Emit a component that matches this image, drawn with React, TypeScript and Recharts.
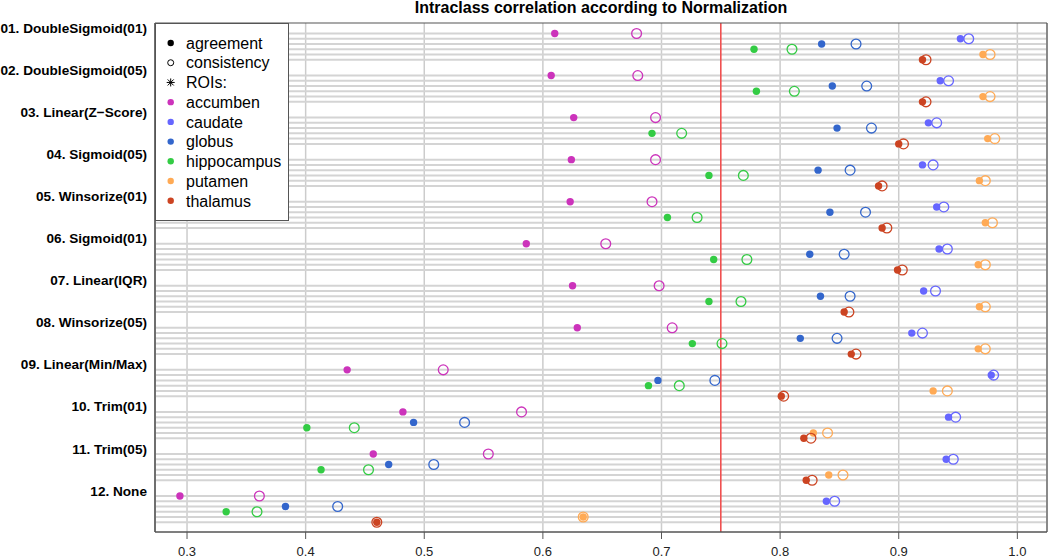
import React from 'react';
import {
  ScatterChart,
  Scatter,
  XAxis,
  YAxis,
  CartesianGrid,
  ReferenceLine,
  Legend,
} from 'recharts';

const FONT = '"Liberation Sans", Arial, Helvetica, sans-serif';

const methods = [
  '01. DoubleSigmoid(01)',
  '02. DoubleSigmoid(05)',
  '03. Linear(Z\u2212Score)',
  '04. Sigmoid(05)',
  '05. Winsorize(01)',
  '06. Sigmoid(01)',
  '07. Linear(IQR)',
  '08. Winsorize(05)',
  '09. Linear(Min/Max)',
  '10. Trim(01)',
  '11. Trim(05)',
  '12. None',
];

const rois = ['accumben', 'caudate', 'globus', 'hippocampus', 'putamen', 'thalamus'];
const roiColors = ['#CC33BB', '#6666FF', '#3366CC', '#33CC44', '#FFAA55', '#CC4422'];

const xTicks = [0.3, 0.4, 0.5, 0.6, 0.7, 0.8, 0.9, 1.0];
const threshold = 0.75;

const accumbenAgreement = [0.610, 0.607, 0.626, 0.624, 0.623, 0.586, 0.625, 0.629, 0.435, 0.482, 0.457, 0.294];
const accumbenConsistency = [0.679, 0.680, 0.695, 0.695, 0.692, 0.653, 0.698, 0.709, 0.516, 0.582, 0.554, 0.361];
const caudateAgreement = [0.952, 0.935, 0.925, 0.920, 0.932, 0.934, 0.921, 0.911, 0.978, 0.942, 0.940, 0.839];
const caudateConsistency = [0.959, 0.942, 0.932, 0.929, 0.938, 0.941, 0.931, 0.920, 0.980, 0.948, 0.946, 0.846];
const globusAgreement = [0.835, 0.844, 0.848, 0.832, 0.842, 0.825, 0.834, 0.817, 0.697, 0.491, 0.470, 0.383];
const globusConsistency = [0.864, 0.873, 0.877, 0.859, 0.872, 0.854, 0.859, 0.848, 0.745, 0.534, 0.508, 0.427];
const hippocampusAgreement = [0.778, 0.780, 0.692, 0.740, 0.705, 0.744, 0.740, 0.726, 0.689, 0.401, 0.413, 0.333];
const hippocampusConsistency = [0.810, 0.812, 0.717, 0.769, 0.730, 0.772, 0.767, 0.751, 0.715, 0.441, 0.453, 0.359];
const putamenAgreement = [0.971, 0.971, 0.975, 0.968, 0.973, 0.967, 0.968, 0.967, 0.929, 0.828, 0.841, 0.634];
const putamenConsistency = [0.977, 0.977, 0.981, 0.973, 0.979, 0.973, 0.973, 0.973, 0.941, 0.840, 0.853, 0.634];
const thalamusAgreement = [0.920, 0.920, 0.900, 0.883, 0.886, 0.899, 0.854, 0.860, 0.801, 0.820, 0.822, 0.460];
const thalamusConsistency = [0.923, 0.923, 0.904, 0.886, 0.890, 0.903, 0.858, 0.864, 0.803, 0.826, 0.827, 0.460];

const agreementByRoi = [
  accumbenAgreement,
  caudateAgreement,
  globusAgreement,
  hippocampusAgreement,
  putamenAgreement,
  thalamusAgreement,
];
const consistencyByRoi = [
  accumbenConsistency,
  caudateConsistency,
  globusConsistency,
  hippocampusConsistency,
  putamenConsistency,
  thalamusConsistency,
];

// dotchart-style row layout: 6 item rows + label row + gap row per group
const nGroups = methods.length;
const rowOf = (g: number, r: number) => (nGroups - 1 - g) * 8 + (6 - r);
const labelRowOf = (g: number) => (nGroups - 1 - g) * 8 + 7;

const itemRows: number[] = [];
methods.forEach((_, g) => rois.forEach((__, r) => itemRows.push(rowOf(g, r))));
const labelRows = methods.map((_, g) => labelRowOf(g));
const labelByRow: Record<number, string> = {};
methods.forEach((m, g) => {
  labelByRow[labelRowOf(g)] = m;
});

const X_DOMAIN: [number, number] = [0.273, 1.025];
const Y_DOMAIN: [number, number] = [-0.85, 96];

const buildPoints = (vals: number[], r: number) =>
  vals.map((v, g) => ({ x: v, y: rowOf(g, r), method: methods[g] }));

const filledShape = (color: string) => (p: any) =>
  <circle cx={p.cx} cy={p.cy} r={3.7} fill={color} stroke="none" />;
const openShape = (color: string) => (p: any) =>
  <circle cx={p.cx} cy={p.cy} r={4.9} fill="none" stroke={color} strokeWidth={1.3} />;

const LegendBox = () => {
  const step = 19.72;
  const y0 = 20;
  const sx = 15.7;
  const tx = 31;
  const items: React.ReactNode[] = [];
  const text = (i: number, s: string) => (
    <text key={'t' + i} x={tx} y={y0 + i * step} dy="0.36em" fontSize={16} fontFamily={FONT} fill="#000">
      {s}
    </text>
  );
  items.push(<circle key="c0" cx={sx} cy={y0} r={3.2} fill="#000" />);
  items.push(text(0, 'agreement'));
  items.push(<circle key="c1" cx={sx} cy={y0 + step} r={3} fill="none" stroke="#000" strokeWidth={1} />);
  items.push(text(1, 'consistency'));
  const ay = y0 + 2 * step;
  const a = 4;
  items.push(
    <g key="ast" stroke="#000" strokeWidth={1}>
      <line x1={sx - a} y1={ay} x2={sx + a} y2={ay} />
      <line x1={sx} y1={ay - a} x2={sx} y2={ay + a} />
      <line x1={sx - a * 0.75} y1={ay - a * 0.75} x2={sx + a * 0.75} y2={ay + a * 0.75} />
      <line x1={sx - a * 0.75} y1={ay + a * 0.75} x2={sx + a * 0.75} y2={ay - a * 0.75} />
    </g>
  );
  items.push(text(2, 'ROIs:'));
  rois.forEach((roi, r) => {
    const i = r + 3;
    items.push(<circle key={'rc' + r} cx={sx} cy={y0 + i * step} r={3.2} fill={roiColors[r]} />);
    items.push(text(i, roi));
  });
  return (
    <svg width={134} height={198} style={{ display: 'block' }}>
      <rect x={0.5} y={0.5} width={133} height={197} fill="#fff" stroke="#555" strokeWidth={1} />
      {items}
    </svg>
  );
};

const YLabelTick = (props: any) => {
  const { x, y, payload } = props;
  const label = labelByRow[payload.value];
  if (!label) return null;
  return (
    <text x={x} y={y} dy="0.355em" textAnchor="end" fontSize={13.6} fontWeight="bold" fontFamily={FONT} fill="#000">
      {label}
    </text>
  );
};

const BORDER = { stroke: '#555', strokeWidth: 1 };

export default function App() {
  return (
    <div style={{ position: 'absolute', left: 0, top: 0, width: 1050, height: 558, background: '#fff' }}>
      <div
        style={{
          position: 'absolute',
          left: 301,
          top: 0,
          width: 600,
          textAlign: 'center',
          fontFamily: FONT,
          fontWeight: 'bold',
          fontSize: 16,
          lineHeight: '16px',
          color: '#000',
          zIndex: 2,
        }}
      >
        Intraclass correlation according to Normalization
      </div>
      <ScatterChart width={1050} height={558} margin={{ top: 23, right: 3, bottom: 0, left: 0 }}>
        <CartesianGrid
          yAxisId="rows"
          horizontal={false}
          vertical={true}
          stroke="#CCCCCC"
          strokeWidth={1.5}
        />
        <XAxis
          type="number"
          dataKey="x"
          domain={X_DOMAIN}
          allowDataOverflow
          ticks={xTicks}
          tickFormatter={(v: number) => v.toFixed(1)}
          height={26}
          axisLine={BORDER}
          tickLine={BORDER}
          tickSize={7}
          tickMargin={8}
          tick={{ fontSize: 13, fontFamily: FONT, fill: '#222' }}
        />
        <YAxis
          yAxisId="lab"
          type="number"
          domain={Y_DOMAIN}
          allowDataOverflow
          ticks={labelRows}
          interval={0}
          width={155}
          axisLine={BORDER}
          tickLine={false}
          tickSize={0}
          tickMargin={8}
          tick={<YLabelTick />}
        />
        <YAxis
          yAxisId="rows"
          type="number"
          dataKey="y"
          domain={Y_DOMAIN}
          allowDataOverflow
          hide
        />
        {itemRows.map((row) => (
          <ReferenceLine key={'row' + row} yAxisId="rows" y={row} stroke="#D4D4D4" strokeWidth={2} />
        ))}
        <ReferenceLine yAxisId="rows" x={threshold} stroke="#F05050" strokeWidth={1.6} />
        <ReferenceLine yAxisId="rows" x={X_DOMAIN[0]} stroke="#555" strokeWidth={1.2} ifOverflow="visible" />
        <ReferenceLine yAxisId="rows" x={X_DOMAIN[1]} stroke="#555" strokeWidth={1.2} ifOverflow="visible" />
        <ReferenceLine yAxisId="rows" y={Y_DOMAIN[0]} stroke="#555" strokeWidth={1.2} ifOverflow="visible" />
        <ReferenceLine yAxisId="rows" y={Y_DOMAIN[1]} stroke="#555" strokeWidth={1.2} ifOverflow="visible" />
        {rois.map((roi, r) => (
          <Scatter
            key={'a-' + roi}
            name={roi + ' agreement'}
            yAxisId="rows"
            data={buildPoints(agreementByRoi[r], r)}
            shape={filledShape(roiColors[r])}
            isAnimationActive={false}
          />
        ))}
        {rois.map((roi, r) => (
          <Scatter
            key={'c-' + roi}
            name={roi + ' consistency'}
            yAxisId="rows"
            data={buildPoints(consistencyByRoi[r], r)}
            shape={openShape(roiColors[r])}
            isAnimationActive={false}
          />
        ))}
        <Legend
          layout="horizontal"
          verticalAlign="middle"
          align="center"
          content={() => <LegendBox />}
          wrapperStyle={{ left: 155, top: 23, width: 134, height: 198 }}
        />
      </ScatterChart>
    </div>
  );
}
